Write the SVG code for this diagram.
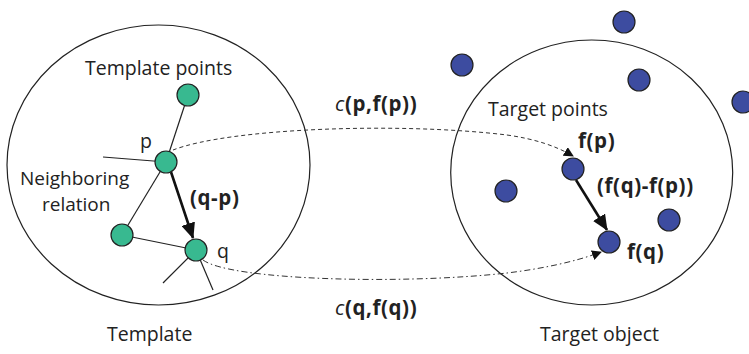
<svg xmlns="http://www.w3.org/2000/svg" width="749" height="354" viewBox="0 0 749 354">
<style>
.bg{fill:#fff}
.ell{fill:none;stroke:#222;stroke-width:1.2}
.edge{stroke:#222;stroke-width:1.2;fill:none}
.g{fill:#38b990;stroke:#222;stroke-width:1.2}
.b{fill:#3d4ca0;stroke:#222;stroke-width:1.2}
.t{font-family:"Open Sans","Noto Sans",sans-serif;font-size:19.5px;fill:#222}
.sm{font-size:19px}
.bd{font-weight:bold;font-size:20.5px;letter-spacing:0.6px}
.it{font-style:italic;font-weight:normal}
.vec{stroke:#111;stroke-width:2.6;fill:none}
.dash{stroke:#333;stroke-width:1;fill:none;stroke-dasharray:4 3}
.dd{stroke:#333;stroke-width:1;fill:none;stroke-dasharray:6 3 1.5 3}
</style>
<defs>
<marker id="big" markerWidth="10" markerHeight="10" refX="9" refY="5" orient="auto" markerUnits="userSpaceOnUse" viewBox="0 0 10 10">
<path d="M0,0 L10,5 L0,10 Z" fill="#111"/>
</marker>
<marker id="big2" markerWidth="16" markerHeight="14" refX="15" refY="7" orient="auto" markerUnits="userSpaceOnUse" viewBox="0 0 16 14">
<path d="M0,0 L16,7 L0,14 Z" fill="#111"/>
</marker>
</defs>
<rect class="bg" width="749" height="354"/>
<g id="template-region">
<ellipse class="ell" cx="158.5" cy="165" rx="151.5" ry="140"/>
</g>
<g id="target-region">
<ellipse class="ell" cx="591.7" cy="172.5" rx="141" ry="132.5"/>
</g>
<g id="connectors">
<line class="edge" x1="188" y1="95" x2="166" y2="162"/>
<line class="edge" x1="103" y1="157" x2="166" y2="162"/>
<line class="edge" x1="166" y1="162" x2="122" y2="235"/>
<line class="edge" x1="122" y1="235" x2="196" y2="250"/>
<line class="edge" x1="196" y1="250" x2="163" y2="283"/>
<line class="edge" x1="196" y1="250" x2="213" y2="290"/>
<line class="vec" x1="171" y1="172" x2="193" y2="238" marker-end="url(#big2)"/>
<path class="dash" d="M173,150 C230,128 400,122 507,135 C535,139 556,146 573,156" marker-end="url(#big)"/>
<path class="dd" d="M203,260 C230,280 400,285 507,273 C540,269 575,262 601,252" marker-end="url(#big)"/>
<line class="vec" x1="576" y1="180" x2="607" y2="230" marker-end="url(#big2)"/>
</g>
<g id="node-t1"><circle class="g" cx="188" cy="95" r="11"/></g>
<g id="node-p"><circle class="g" cx="166" cy="162" r="11"/></g>
<g id="node-t3"><circle class="g" cx="122" cy="235" r="11"/></g>
<g id="node-q"><circle class="g" cx="196" cy="250" r="11"/></g>
<g id="node-b1"><circle class="b" cx="624" cy="22" r="11"/></g>
<g id="node-b2"><circle class="b" cx="462" cy="65" r="11"/></g>
<g id="node-b3"><circle class="b" cx="639" cy="80" r="11"/></g>
<g id="node-b4"><circle class="b" cx="743" cy="102" r="11"/></g>
<g id="node-fp"><circle class="b" cx="573" cy="169" r="11"/></g>
<g id="node-b6"><circle class="b" cx="506" cy="191" r="11"/></g>
<g id="node-b7"><circle class="b" cx="669" cy="220" r="11"/></g>
<g id="node-fq"><circle class="b" cx="609" cy="242" r="11"/></g>
<g id="labels">
<text class="t" x="85" y="75">Template points</text>
<text class="t" x="140" y="148">p</text>
<text class="t sm" x="20" y="185">Neighboring</text>
<text class="t sm" x="42" y="211">relation</text>
<text class="t bd" x="190" y="205">(q-p)</text>
<text class="t" x="217" y="258">q</text>
<text class="t" x="107" y="341">Template</text>
<text class="t bd" x="335" y="111"><tspan class="it">c</tspan>(p,f(p))</text>
<text class="t bd" x="335" y="315"><tspan class="it">c</tspan>(q,f(q))</text>
<text class="t" x="488" y="116">Target points</text>
<text class="t bd" x="578" y="148">f(p)</text>
<text class="t bd" x="597" y="193">(f(q)-f(p))</text>
<text class="t bd" x="627" y="259">f(q)</text>
<text class="t" x="540" y="341">Target object</text>
</g>
</svg>
